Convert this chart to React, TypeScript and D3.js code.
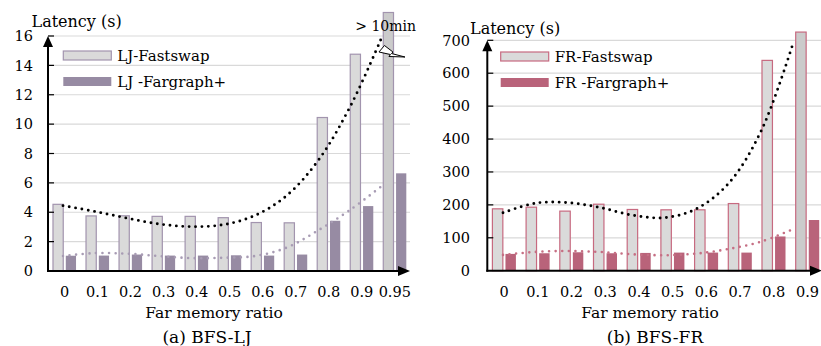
import React from 'react';
import * as d3 from 'd3';

// (a) BFS-LJ
const ljRatios = ['0', '0.1', '0.2', '0.3', '0.4', '0.5', '0.6', '0.7', '0.8', '0.9', '0.95'];
const ljFastswap = [4.54, 3.75, 3.76, 3.72, 3.72, 3.63, 3.3, 3.28, 10.45, 14.76, 17.6];
const ljFargraph = [1.04, 1.05, 1.12, 1.05, 1.05, 1.07, 1.05, 1.12, 3.42, 4.42, 6.65];
const ljFastswapTrend = [4.45, 4.05, 3.6, 3.2, 3.02, 3.15, 3.78, 5.15, 7.6, 11.3, 16.1];
const ljFargraphTrend = [1.02, 1.22, 1.18, 1.02, 0.88, 0.9, 1.02, 1.6, 2.8, 4.2, 5.85];
const ljTicks = [0, 2, 4, 6, 8, 10, 12, 14, 16];

// (b) BFS-FR
const frRatios = ['0', '0.1', '0.2', '0.3', '0.4', '0.5', '0.6', '0.7', '0.8', '0.9'];
const frFastswap = [188, 193, 181, 202, 186, 185, 185, 204, 639, 725];
const frFargraph = [51, 53, 56, 53, 54, 55, 55, 55, 104, 154];
const frFastswapTrend = [176, 205, 207, 192, 169, 161, 188, 265, 422, 690];
const frFargraphTrend = [48, 57, 60, 57, 50, 47, 52, 66, 88, 126];
const frTicks = [0, 100, 200, 300, 400, 500, 600, 700];

const FONT = '"DejaVu Serif", serif';

const panels = [
  {
    cats: ljRatios, fast: ljFastswap, farg: ljFargraph,
    fastTrend: ljFastswapTrend, fargTrend: ljFargraphTrend, ticks: ljTicks,
    names: ['LJ-Fastswap', 'LJ -Fargraph+'], caption: '(a) BFS-LJ',
    axisX: 48, bandEnd: 411.3, gridEnd: 410, arrowEnd: 410, y0: 271, yTop: 36,
    trendRange: [63, 383], tickLabelX: 33, latency: [31.5, 27],
    legend: [63.3, 51], titleX: 214, captionX: 207,
    stroke: '#a294ae', dark: '#978ba3', trend: '#a89cb4', breakMark: true,
  },
  {
    cats: frRatios, fast: frFastswap, farg: frFargraph,
    fastTrend: frFastswapTrend, fargTrend: frFargraphTrend, ticks: frTicks,
    names: ['FR-Fastswap', 'FR -Fargraph+'], caption: '(b) BFS-FR',
    axisX: 487.3, bandEnd: 824.3, gridEnd: 824, arrowEnd: 822, y0: 270.7, yTop: 40.3,
    trendRange: [503, 793], tickLabelX: 470, latency: [470, 34],
    legend: [500.7, 52], titleX: 650, captionX: 655,
    stroke: '#c76a80', dark: '#b9637a', trend: '#c66f84', breakMark: false,
  },
];

function Panel({ p }: { p: any }) {
  const x = d3.scaleBand().domain(p.cats).range([p.axisX, p.bandEnd]);
  const sub = d3.scaleBand().domain(['fast', 'farg']).range([0, x.bandwidth()])
    .paddingInner(0.2).paddingOuter(0.39);
  const y = d3.scaleLinear().domain([0, d3.max(p.ticks) as number]).range([p.y0, p.yTop]);
  const tx = d3.scaleLinear().domain([0, p.cats.length - 1]).range(p.trendRange);
  const line = d3.line<number>().x((_, i) => tx(i)).y(d => y(d)).curve(d3.curveCatmullRom.alpha(0.5));
  const bw = sub.bandwidth();
  const last = p.cats.length - 1;

  // break mark sits on the clipped last bar
  const bx = (x(p.cats[last]) as number) + (sub('fast') as number);
  const by = y(d3.max(p.ticks) as number);

  return (
    <g fontFamily={FONT}>
      {p.ticks.filter((t: number) => t > 0).map((t: number) => (
        <line key={t} x1={p.axisX} x2={p.gridEnd} y1={y(t)} y2={y(t)} stroke="#d9d9d9" strokeWidth={1.2} />
      ))}

      {p.cats.map((c: string, i: number) => (
        <g key={c}>
          <rect x={(x(c) as number) + (sub('fast') as number)} y={y(p.fast[i])} width={bw}
            height={p.y0 - y(p.fast[i])} fill={i === last ? '#cbcbcb' : '#dadada'}
            stroke={p.stroke} strokeWidth={1.2} />
          <rect x={(x(c) as number) + (sub('farg') as number)} y={y(p.farg[i])} width={bw}
            height={p.y0 - y(p.farg[i])} fill={p.dark} />
        </g>
      ))}

      <path d={line(p.fargTrend) as string} fill="none" stroke={p.trend} strokeWidth={2.6}
        strokeDasharray="0 6.6" strokeLinecap="round" />
      <path d={line(p.fastTrend) as string} fill="none" stroke="#000" strokeWidth={2.9}
        strokeDasharray="0 6.4" strokeLinecap="round" />

      {p.breakMark && (
        <g>
          <path d={`M${bx - 4.3},${by + 16} L${bx + 1.2},${by + 9.5} L${bx + 9.7},${by + 16} L${bx + 8.2},${by + 17.5}
            L${bx + 21.7},${by + 21} L${bx + 5.7},${by + 20.5} L${bx + 7.2},${by + 18.5} Z`}
            fill="#fff" stroke="#000" strokeWidth={1} strokeLinejoin="miter" />
          <text x={bx - 28} y={by - 5} fontSize={14} fill="#000">&gt; 10min</text>
        </g>
      )}

      {/* axes */}
      <line x1={p.axisX} x2={p.axisX} y1={p.y0 + 1} y2={p.yTop + 8} stroke="#000" strokeWidth={2} />
      <path d={`M${p.axisX},${p.yTop} L${p.axisX - 5},${p.yTop + 11} L${p.axisX + 5},${p.yTop + 11} Z`} fill="#000" />
      <line x1={p.axisX - 1} x2={p.arrowEnd - 8} y1={p.y0} y2={p.y0} stroke="#000" strokeWidth={2} />
      <path d={`M${p.arrowEnd},${p.y0} L${p.arrowEnd - 12},${p.y0 - 5} L${p.arrowEnd - 12},${p.y0 + 5} Z`} fill="#000" />

      {p.ticks.map((t: number) => (
        <g key={t}>
          {t > 0 && <line x1={p.axisX} x2={p.axisX + 6} y1={y(t)} y2={y(t)} stroke="#000" strokeWidth={1.2} />}
          <text x={p.tickLabelX} y={y(t)} dy="0.36em" textAnchor="end" fontSize={14.5}>{t}</text>
        </g>
      ))}

      {p.cats.map((c: string) => (
        <text key={c} x={(x(c) as number) + x.bandwidth() / 2} y={297} textAnchor="middle" fontSize={14.5}>{c}</text>
      ))}

      <text x={p.latency[0]} y={p.latency[1]} fontSize={16}>Latency (s)</text>
      <text x={p.titleX} y={318} textAnchor="middle" fontSize={15.5}>Far memory ratio</text>
      <text x={p.captionX} y={343} textAnchor="middle" fontSize={17}>{p.caption}</text>

      {/* legend */}
      <rect x={p.legend[0]} y={p.legend[1]} width={48} height={9} fill="#dadada" stroke={p.stroke} strokeWidth={1.2} />
      <rect x={p.legend[0]} y={p.legend[1] + 26} width={48} height={9} fill={p.dark} />
      <text x={p.legend[0] + 54} y={p.legend[1] + 10} fontSize={15}>{p.names[0]}</text>
      <text x={p.legend[0] + 54} y={p.legend[1] + 36} fontSize={15}>{p.names[1]}</text>
    </g>
  );
}

export default function App() {
  return (
    <svg width={821} height={346} style={{ position: 'absolute', left: 0, top: 0, background: '#fff' }}>
      {panels.map((p, i) => <Panel key={i} p={p} />)}
    </svg>
  );
}
